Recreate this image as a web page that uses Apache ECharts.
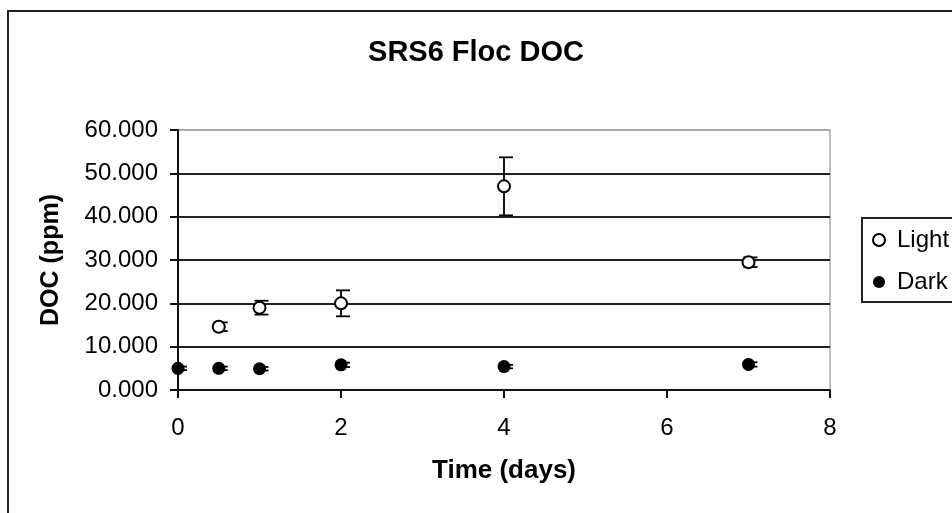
<!DOCTYPE html>
<html>
<head>
<meta charset="utf-8">
<script src="https://cdn.jsdelivr.net/npm/echarts@6/dist/echarts.min.js"></script>
<style>html,body{margin:0;padding:0;background:#fff}#c{width:952px;height:513px}</style>
</head>
<body>
<div id="c"></div>
<script>
var titleText = 'SRS6 Floc DOC';
var xName = 'Time (days)';
var yName = 'DOC (ppm)';
var lightX = [0.5, 1, 2, 4, 7];
var lightY = [14.6, 19.0, 20.0, 47.0, 29.5];
var lightErr = [1.0, 1.6, 3.0, 6.7, 1.1];
var darkX = [0, 0.5, 1, 2, 4, 7];
var darkY = [5.0, 5.0, 4.9, 5.8, 5.4, 5.9];
var darkErr = [0.4, 0.4, 0.4, 0.5, 0.4, 0.5];

function pts(xs, ys) { return xs.map(function (x, i) { return [x, ys[i]]; }); }
function errData(xs, ys, es) { return xs.map(function (x, i) { return [x, ys[i] - es[i], ys[i] + es[i]]; }); }

function errRender(params, api) {
  var lo = api.coord([api.value(0), api.value(1)]);
  var hi = api.coord([api.value(0), api.value(2)]);
  var st = { stroke: '#000', lineWidth: 1.8 };
  return {
    type: 'group',
    children: [
      { type: 'line', shape: { x1: lo[0], y1: lo[1], x2: hi[0], y2: hi[1] }, style: st },
      { type: 'line', shape: { x1: lo[0] - 5, y1: lo[1], x2: lo[0] + 9, y2: lo[1] }, style: st },
      { type: 'line', shape: { x1: hi[0] - 5, y1: hi[1], x2: hi[0] + 9, y2: hi[1] }, style: st }
    ]
  };
}

var chart = echarts.init(document.getElementById('c'), null, { renderer: 'canvas' });
var font = 'Liberation Sans, Arial, sans-serif';
chart.setOption({
  animation: false,
  backgroundColor: '#fff',
  graphic: [{
    type: 'rect', shape: { x: 8, y: 11, width: 960, height: 520 },
    style: { fill: null, stroke: '#222', lineWidth: 2 }, z: 0
  }],
  title: {
    text: titleText, left: 'center', top: 33,
    textStyle: { fontFamily: font, fontWeight: 'bold', fontSize: 29, color: '#000' }
  },
  legend: {
    orient: 'vertical', left: 862, top: 218,
    padding: [10, 40, 8, 10], itemGap: 18, itemWidth: 12, itemHeight: 12,
    borderColor: '#222', borderWidth: 2, backgroundColor: '#fff',
    textStyle: { fontFamily: font, fontSize: 24, color: '#000', lineHeight: 24, padding: [0, 0, 0, 7] },
    data: ['Light', 'Dark']
  },
  grid: { left: 178, right: 122, top: 130, bottom: 123, show: true, borderColor: '#aaa', borderWidth: 1.5, backgroundColor: 'transparent' },
  xAxis: {
    type: 'value', min: 0, max: 8, interval: 2,
    name: xName, nameLocation: 'middle', nameGap: 68,
    nameTextStyle: { fontFamily: font, fontWeight: 'bold', fontSize: 26, color: '#000' },
    axisLine: { lineStyle: { color: '#111', width: 2 } },
    axisTick: { inside: false, length: 8, lineStyle: { color: '#111', width: 2 } },
    axisLabel: { fontFamily: font, fontSize: 24, color: '#000', margin: 26 },
    splitLine: { show: false }
  },
  yAxis: {
    type: 'value', min: 0, max: 60, interval: 10,
    name: yName, nameLocation: 'middle', nameGap: 114, nameRotate: 90,
    nameTextStyle: { fontFamily: font, fontWeight: 'bold', fontSize: 25, color: '#000' },
    axisLine: { show: true, lineStyle: { color: '#111', width: 2 } },
    axisTick: { show: true, inside: false, length: 8, lineStyle: { color: '#111', width: 2 } },
    axisLabel: { fontFamily: font, fontSize: 24, color: '#000', margin: 20, formatter: function (v) { return v.toFixed(3); } },
    splitLine: { show: true, lineStyle: { color: ['#222', '#222', '#222', '#222', '#222', '#222', '#aaa'], width: 2 } }
  },
  series: [
    { type: 'custom', name: 'lightErr', renderItem: errRender, data: errData(lightX, lightY, lightErr), z: 3, encode: { x: 0, y: [1, 2] } },
    { type: 'custom', name: 'darkErr', renderItem: errRender, data: errData(darkX, darkY, darkErr), z: 3, encode: { x: 0, y: [1, 2] } },
    { type: 'scatter', name: 'Light', data: pts(lightX, lightY), symbol: 'circle', symbolSize: 12, z: 5,
      itemStyle: { color: '#fff', borderColor: '#000', borderWidth: 2, opacity: 1 } },
    { type: 'scatter', name: 'Dark', data: pts(darkX, darkY), symbol: 'circle', symbolSize: 13, z: 5,
      itemStyle: { color: '#000', borderColor: '#000', borderWidth: 0, opacity: 1 } }
  ]
});
</script>
</body>
</html>
